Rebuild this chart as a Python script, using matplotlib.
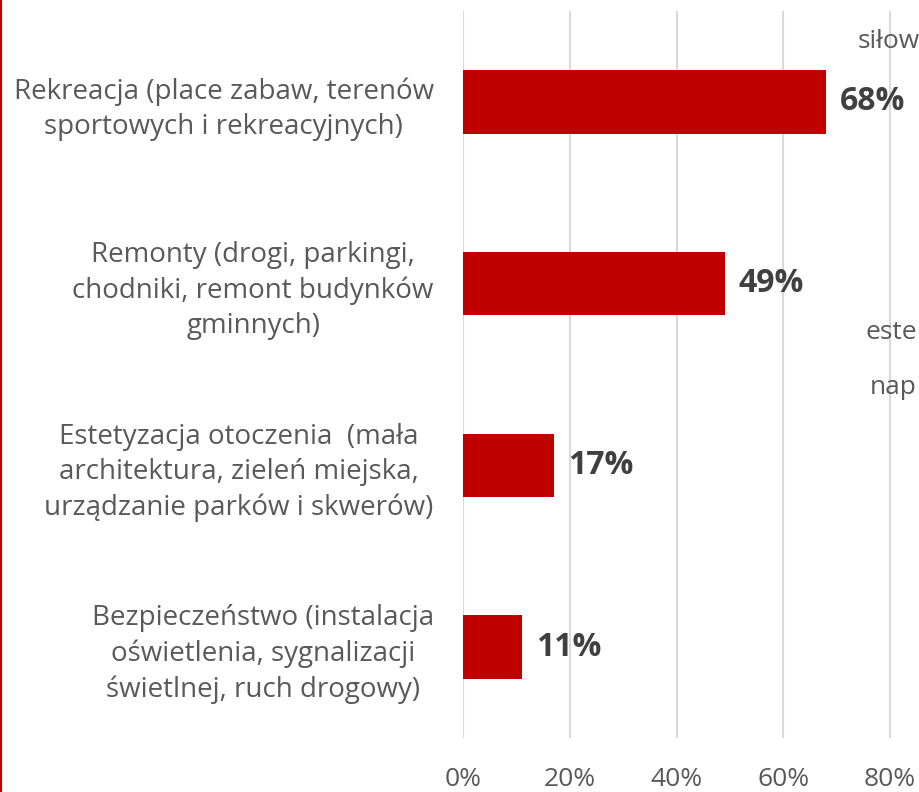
import matplotlib.pyplot as plt
from matplotlib.lines import Line2D

plt.rcParams['font.family'] = ['Open Sans', 'DejaVu Sans']

# data
categories = [
    "Rekreacja (place zabaw, terenów\nsportowych i rekreacyjnych)",
    "Remonty (drogi, parkingi,\nchodniki, remont budynków\ngminnych)",
    "Estetyzacja otoczenia  (mała\narchitektura, zieleń miejska,\nurządzanie parków i skwerów)",
    "Bezpieczeństwo (instalacja\noświetlenia, sygnalizacji\nświetlnej, ruch drogowy)",
]
values = [68, 49, 17, 11]
xticks = [0, 20, 40, 60, 80]

red = "#C00000"
grey = "#595959"

fig = plt.figure(figsize=(9.2, 7.92), dpi=100)
ax = fig.add_axes([463 / 920, 1 - 738 / 792, 1 - 463 / 920, (738 - 11) / 792])

y = list(range(len(categories)))
ax.barh(y, values, height=0.35, color=red, zorder=3)
for yi, v in zip(y, values):
    ax.text(v + 2.6, yi, f"{v}%", va="center", ha="left",
            fontsize=23, fontweight="bold", color="#404040")

ax.set_ylim(3.5, -0.5)
ax.set_xlim(0, (920 - 463) / ((890 - 463) / 80))
ax.set_xticks(xticks)
ax.set_xticklabels([f"{t}%" for t in xticks], fontsize=19, color=grey)
ax.set_yticks(y)
ax.set_yticklabels(categories, fontsize=20, color=grey, linespacing=1.35)
for lbl in ax.get_yticklabels():
    lbl.set_multialignment("center")
ax.tick_params(axis="y", length=0, pad=21)
ax.tick_params(axis="x", length=0, pad=21)
ax.grid(axis="x", color="#D9D9D9", linewidth=1.5, zorder=0)
for s in ax.spines.values():
    s.set_visible(False)

# red frame line on the left edge of the slide
fig.add_artist(Line2D([0.0015, 0.0015], [0, 1], color=red, linewidth=1.5,
                      transform=fig.transFigure))

# fragments of neighbouring text visible at the right edge
fig.text(858 / 920, 1 - 42 / 792, "siłow", fontsize=19, color=grey, va="center")
fig.text(866 / 920, 1 - 333 / 792, "este", fontsize=19, color=grey, va="center")
fig.text(870 / 920, 1 - 388 / 792, "nap", fontsize=19, color=grey, va="center")

fig.savefig("out.png", dpi=100)
